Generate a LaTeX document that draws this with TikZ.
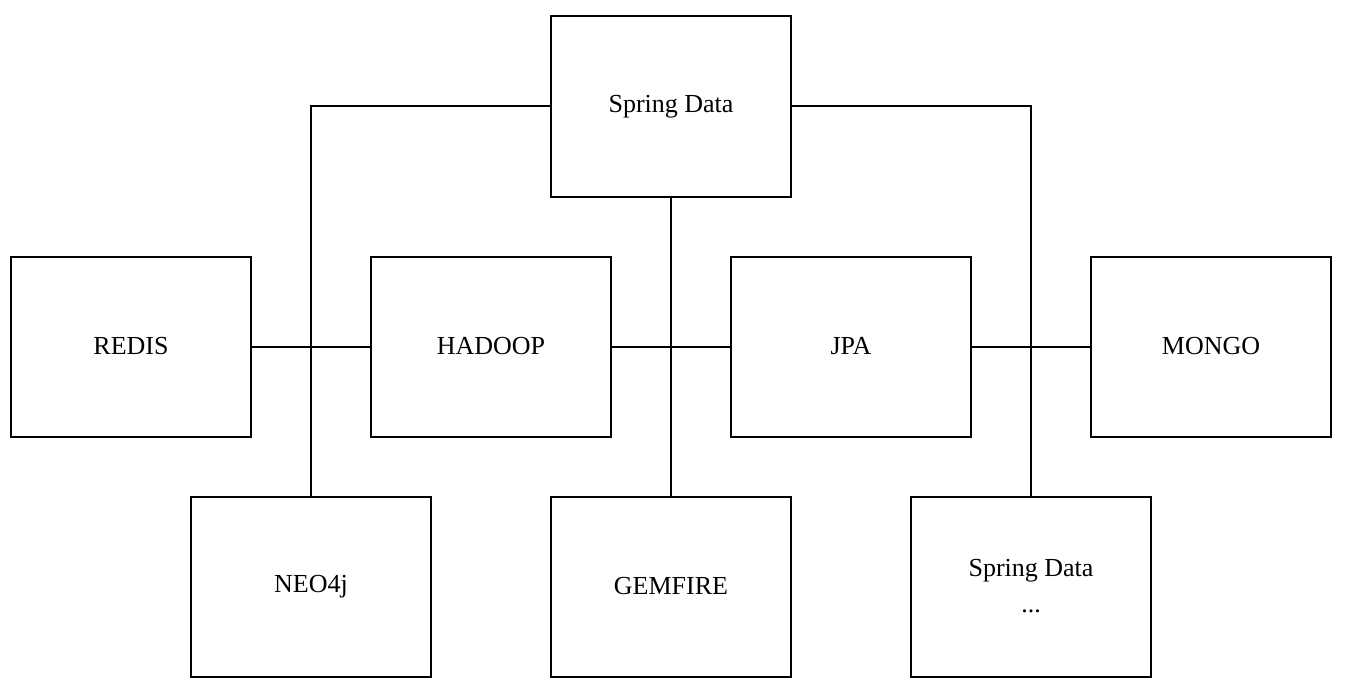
\documentclass[tikz,border=0pt]{standalone}
\usepackage{fontspec}
\setmainfont{Liberation Serif}
\begin{document}
\begin{tikzpicture}[x=1pt,y=-1pt,
  box/.style={draw=black,line width=2pt,minimum width=240pt,minimum height=180pt,inner sep=0pt,align=center,font=\fontsize{26}{36}\selectfont},
  conn/.style={draw=black,line width=2pt}]
\useasboundingbox (0,0) rectangle (1346,690);
\node[box] (sd) at (671,106.5) {Spring Data};
\node[box] (redis) at (131,346.5) {REDIS};
\node[box] (hadoop) at (491,346.5) {HADOOP};
\node[box] (jpa) at (851,346.5) {JPA};
\node[box] (mongo) at (1211,346.5) {MONGO};
\node[box] (neo) at (311,586.5) {NEO4j};
\node[box] (gem) at (671,586.5) {GEMFIRE};
\node[box] (sd2) at (1031,586.5) {Spring Data\\...};
\draw[conn] (sd.west) -| (neo.north);
\draw[conn] (sd.east) -| (sd2.north);
\draw[conn] (sd.south) -- (gem.north);
\draw[conn] (redis.east) -- (hadoop.west);
\draw[conn] (hadoop.east) -- (jpa.west);
\draw[conn] (jpa.east) -- (mongo.west);
\end{tikzpicture}
\end{document}
